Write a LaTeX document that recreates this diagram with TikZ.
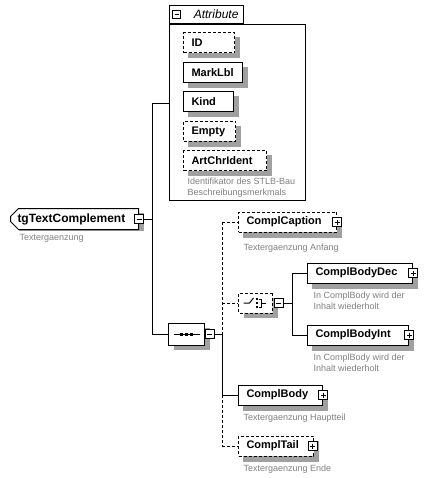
\documentclass[tikz,border=0pt]{standalone}
\usepackage{fontspec}
\setmainfont{Liberation Sans}
\usepackage{tikz}
\usetikzlibrary{positioning, shapes.misc}
\definecolor{shadowgray}{RGB}{160,160,160}
\definecolor{descgray}{RGB}{128,128,128}
\pgfdeclarelayer{background}
\pgfsetlayers{background,main}

\begin{document}
\begin{tikzpicture}[x=1pt, y=-1pt, line width=1pt,
        elem/.style={rectangle, draw, fill=white, anchor=west, align=left, inner xsep=8pt, inner ysep=0pt, minimum height=20pt, font=\bfseries\fontsize{11}{13}\selectfont},
        opt/.style={dash pattern=on 3pt off 2pt},
        desc/.style={anchor=north west, align=left, inner sep=0pt, text=descgray, font=\fontsize{9}{11}\selectfont},
        model/.style={chamfered rectangle, chamfered rectangle xsep=5pt, chamfered rectangle ysep=5pt, draw, fill=white, anchor=west, inner sep=0pt},
        minus/.style={rectangle, draw, fill=white, minimum size=9pt, inner sep=0pt, line width=0.8pt, path picture={\draw ([xshift=2pt]path picture bounding box.west) -- ([xshift=-2pt]path picture bounding box.east);}},
        plus/.style={rectangle, draw, fill=white, minimum size=9pt, inner sep=0pt, line width=0.8pt, path picture={\draw ([xshift=2pt]path picture bounding box.west) -- ([xshift=-2pt]path picture bounding box.east); \draw ([yshift=-2pt]path picture bounding box.north) -- ([yshift=2pt]path picture bounding box.south);}}]
        \useasboundingbox (0,0) rectangle (427,478);
        % attribute group
        \node[draw, minimum width=136pt, minimum height=176pt, anchor=north west] (attr) at (169,24) {};
        \node[draw, fill=white, anchor=south west, inner xsep=5pt, inner ysep=0pt, minimum height=18pt, text width=64pt, align=right, font=\itshape\fontsize{12}{14}\selectfont] (attrtab) at (169,24) {Attribute};
        \node[minus, minimum size=8pt] (attrpm) at ([xshift=7.5pt]attrtab.west) {};
        \node[elem, opt, text width=35pt] (id) at (183,43) {ID};
        \node[elem, text width=43pt] (marklbl) [below right = 8.5pt and 0pt of id.south west] {MarkLbl};
        \node[elem, text width=34pt] (kind) [below right = 8.5pt and 0pt of marklbl.south west] {Kind};
        \node[elem, opt, text width=36pt] (empty) [below right = 8.5pt and 0pt of kind.south west] {Empty};
        \node[elem, opt, text width=67pt] (artchr) [below right = 8.5pt and 0pt of empty.south west] {ArtChrIdent};
        \node[desc] (artchrdesc) [below right = 5.5pt and 4pt of artchr.south west] {Identifikator des STLB-Bau\\Beschreibungsmerkmals};
        % main group
        \node[elem, chamfered rectangle, chamfered rectangle corners={north west, south west}, chamfered rectangle xsep=4pt, chamfered rectangle ysep=4pt, inner xsep=3pt, minimum width=127pt, minimum height=21pt, text width=114pt, font=\bfseries\fontsize{12}{14}\selectfont] (tg) at (10,219) {tgTextComplement};
        \node[minus] (tgpm) at (tg.east) {};
        \node[desc] (tgdesc) [below right = 7.5pt and 5pt of tg.south west] {Textergaenzung};
        % sequence
        \node[model, minimum width=36pt, minimum height=22pt] (seq) at (168,334) {};
        \node[minus] (seqpm) at ([xshift=4.5pt]seq.east) {};
        \draw ([xshift=-13pt]seq.center) -- ([xshift=13pt]seq.center);
        \foreach \dx in {-5,0,5}
            \fill ([xshift=\dx pt]seq.center) +(-1.5,-1.5) rectangle +(1.5,1.5);
        \node[elem, opt, text width=82pt] (caption) at (238,222) {ComplCaption};
        \node[plus] (captionpm) at (caption.east) {};
        \node[desc] (captiondesc) [below right = 11pt and 5pt of caption.south west] {Textergaenzung Anfang};
        % choice
        \node[model, opt, minimum width=34pt, minimum height=20pt] (choice) at (238,303) {};
        \node[minus] (choicepm) at ([xshift=5.5pt]choice.east) {};
        \draw ([xshift=-12pt]choice.center) -- ([xshift=-6pt]choice.center) -- ++(4,-5);
        \foreach \dy in {-4,0,4}
            \fill ([xshift=1pt, yshift=-\dy pt]choice.center) +(-1,-1) rectangle +(1,1);
        \draw ([xshift=3pt, yshift=4pt]choice.center) -- ++(3,0) -- ++(0,8) -- ++(-3,0);
        \draw ([xshift=6pt]choice.center) -- ++(4,0);
        \node[elem, text width=89pt] (bodydec) at (307,273) {ComplBodyDec};
        \node[plus] (bodydecpm) at (bodydec.east) {};
        \node[desc] (bodydecdesc) [below right = 8pt and 6pt of bodydec.south west] {In ComplBody wird der\\Inhalt wiederholt};
        \node[elem, text width=85pt] (bodyint) at (307,335) {ComplBodyInt};
        \node[plus] (bodyintpm) at (bodyint.east) {};
        \node[desc] (bodyintdesc) [below right = 7.5pt and 6pt of bodyint.south west] {In ComplBody wird der\\Inhalt wiederholt};
        \node[elem, text width=68pt] (body) at (238,395) {ComplBody};
        \node[plus] (bodypm) at (body.east) {};
        \node[desc] (bodydesc) [below right = 8pt and 5pt of body.south west] {Textergaenzung Hauptteil};
        \node[elem, opt, text width=59pt] (tail) at (238,446) {ComplTail};
        \node[plus] (tailpm) at ([xshift=-1.5pt]tail.east) {};
        \node[desc] (taildesc) [below right = 7.5pt and 5pt of tail.south west] {Textergaenzung Ende};
        % shadows
        \begin{pgfonlayer}{background}
            \foreach \n in {id, marklbl, kind, empty, artchr, tg, seq, caption, choice, bodydec, bodyint, body, tail}
                \fill[shadowgray] ([shift={(5,5)}]\n.south west) rectangle ([shift={(5,5)}]\n.north east);
        \end{pgfonlayer}
        % connectors
        \coordinate (bustop) at (152,103);
        \coordinate (busbot) at (152,334);
        \coordinate (v1top) at (222,222);
        \coordinate (v1mid) at (222,334);
        \coordinate (v1body) at (222,395);
        \coordinate (v1tail) at (222,446);
        \coordinate (v2top) at (292,273);
        \coordinate (v2bot) at (292,335);
        \draw (tgpm) -- (tgpm -| bustop);
        \draw (bustop) -- (busbot);
        \draw (bustop) -- (bustop -| attr.west);
        \draw (busbot) -- (seq.west);
        \draw (seqpm) -- (v1mid);
        \draw[opt] (v1top) -- (v1mid);
        \draw (v1mid) -- (v1body);
        \draw[opt] (v1body) -- (v1tail);
        \draw[opt] (v1top) -- (caption.west);
        \draw[opt] (v1top |- choice.west) -- (choice.west);
        \draw (v1body) -- (body.west);
        \draw[opt] (v1tail) -- (tail.west);
        \draw (choicepm) -- (choicepm -| v2top);
        \draw (v2top) -- (v2bot);
        \draw (v2top) -- (bodydec.west);
        \draw (v2bot) -- (bodyint.west);
    \end{tikzpicture}
\end{document}
